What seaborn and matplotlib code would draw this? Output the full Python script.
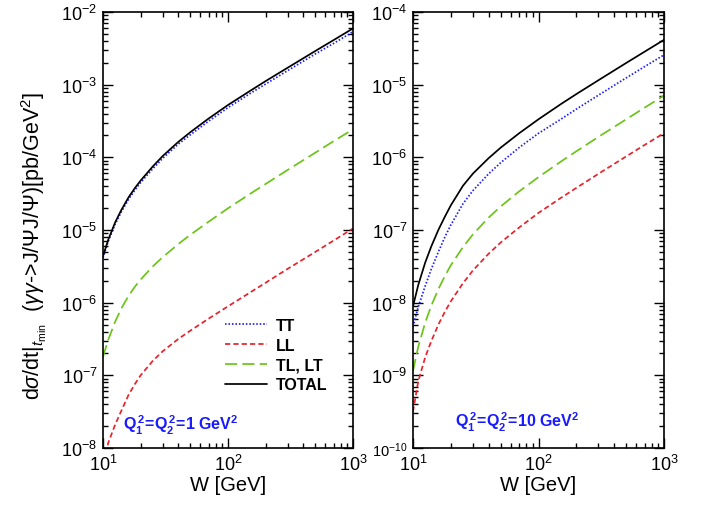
import numpy as np
import pandas as pd
import matplotlib
matplotlib.use('Agg')
import matplotlib.pyplot as plt
import seaborn as sns
from matplotlib.ticker import LogLocator, NullFormatter

# W grid [GeV], shared by both panels
W = [10, 11, 12.5, 14, 16, 18, 20, 25, 30, 40, 50, 70, 100, 150, 200, 300, 500, 700, 1000]

# left panel: Q1^2 = Q2^2 = 1 GeV^2
tt_1 = [4.15e-6, 6.95e-6, 1.2e-5, 1.77e-5, 2.64e-5, 3.55e-5, 4.5e-5, 6.96e-5, 9.67e-5, 1.52e-4,
        2.04e-4, 3.15e-4, 4.83e-4, 7.55e-4, 1.02e-3, 1.56e-3, 2.65e-3, 3.7e-3, 5.35e-3]
ll_1 = [5.0e-9, 1.17e-8, 2.09e-8, 3.24e-8, 5.37e-8, 7.59e-8, 1.0e-7, 1.58e-7, 2.14e-7, 3.16e-7,
        4.12e-7, 6.03e-7, 8.9e-7, 1.38e-6, 1.88e-6, 2.92e-6, 5.0e-6, 7.16e-6, 1.05e-5]
tl_1 = [1.8e-7, 3.07e-7, 5.46e-7, 8.3e-7, 1.24e-6, 1.66e-6, 2.08e-6, 3.15e-6, 4.22e-6, 6.4e-6,
        8.6e-6, 1.3e-5, 1.99e-5, 3.14e-5, 4.3e-5, 6.7e-5, 1.16e-4, 1.67e-4, 2.43e-4]
tot_1 = [4.37e-6, 7.31e-6, 1.27e-5, 1.88e-5, 2.81e-5, 3.78e-5, 4.79e-5, 7.48e-5, 1.04e-4, 1.63e-4,
         2.22e-4, 3.42e-4, 5.25e-4, 8.2e-4, 1.12e-3, 1.71e-3, 2.91e-3, 4.11e-3, 5.94e-3]

# right panel: Q1^2 = Q2^2 = 10 GeV^2
tt_10 = [4.68e-9, 8.69e-9, 1.69e-8, 2.91e-8, 5.1e-8, 8.09e-8, 1.17e-7, 2.29e-7, 3.48e-7, 5.92e-7,
         8.45e-7, 1.36e-6, 2.14e-6, 3.33e-6, 4.6e-6, 7.16e-6, 1.24e-5, 1.77e-5, 2.57e-5]
ll_10 = [3.16e-10, 8.2e-10, 1.77e-9, 2.97e-9, 5.07e-9, 7.57e-9, 1.04e-8, 1.85e-8, 2.77e-8, 4.71e-8,
         6.73e-8, 1.08e-7, 1.72e-7, 2.75e-7, 3.79e-7, 5.93e-7, 1.03e-6, 1.48e-6, 2.15e-6]
tl_10 = [1.15e-9, 2.46e-9, 5.3e-9, 9.12e-9, 1.56e-8, 2.35e-8, 3.26e-8, 5.82e-8, 8.69e-8, 1.48e-7,
         2.11e-7, 3.39e-7, 5.35e-7, 8.69e-7, 1.21e-6, 1.91e-6, 3.34e-6, 4.82e-6, 7.08e-6]
tot_10 = [8.9e-9, 1.74e-8, 3.55e-8, 5.97e-8, 1.02e-7, 1.54e-7, 2.18e-7, 4.06e-7, 5.96e-7, 9.72e-7,
          1.36e-6, 2.14e-6, 3.34e-6, 5.37e-6, 7.41e-6, 1.15e-5, 1.99e-5, 2.84e-5, 4.14e-5]

components = ['TT', 'LL', 'TL, LT', 'TOTAL']
palette = {'TT': '#1c1cff', 'LL': '#e8222c', 'TL, LT': '#6cc417', 'TOTAL': '#000000'}
dashes = {'TT': (0.9, 1.1), 'LL': (3.0, 1.8), 'TL, LT': (7.0, 3.0), 'TOTAL': ''}


def make_df(tt, ll, tl, tot):
    parts = []
    for name, vals in zip(components, [tt, ll, tl, tot]):
        parts.append(pd.DataFrame({'W': W, 'val': vals, 'comp': name}))
    return pd.concat(parts, ignore_index=True)


sns.set_style('ticks')
plt.rcParams['font.family'] = ['Liberation Sans', 'DejaVu Sans']
plt.rcParams['mathtext.fontset'] = 'custom'
plt.rcParams['mathtext.rm'] = 'Liberation Sans'
plt.rcParams['mathtext.it'] = 'Liberation Sans:italic'
plt.rcParams['mathtext.bf'] = 'Liberation Sans:bold'
for k in ['text.color', 'axes.labelcolor', 'xtick.color', 'ytick.color', 'axes.edgecolor']:
    plt.rcParams[k] = 'black'

fig = plt.figure(figsize=(7.01, 5.10), dpi=100)
ax1 = fig.add_axes([103 / 701, 1 - 449 / 510, 250 / 701, 436 / 510])
ax2 = fig.add_axes([413 / 701, 1 - 449 / 510, 251 / 701, 436 / 510])

panels = [
    (ax1, make_df(tt_1, ll_1, tl_1, tot_1), (1e-8, 1e-2)),
    (ax2, make_df(tt_10, ll_10, tl_10, tot_10), (1e-10, 1e-4)),
]

for ax, df, ylim in panels:
    sns.lineplot(data=df, x='W', y='val', hue='comp', style='comp',
                 hue_order=components, style_order=components,
                 palette=palette, dashes=dashes, lw=1.25,
                 errorbar=None, ax=ax, legend=(ax is ax1))
    ax.set_xscale('log')
    ax.set_yscale('log')
    ax.set_xlim(10, 1000)
    ax.set_ylim(*ylim)
    ax.xaxis.set_minor_locator(LogLocator(base=10, subs=np.arange(2, 10), numticks=100))
    ax.yaxis.set_minor_locator(LogLocator(base=10, subs=np.arange(2, 10), numticks=100))
    ax.xaxis.set_minor_formatter(NullFormatter())
    ax.yaxis.set_minor_formatter(NullFormatter())
    ax.tick_params(which='both', direction='in', top=True, right=True,
                   labelsize=13, color='black', labelcolor='black', width=1.0)
    ax.tick_params(which='major', length=7, pad=4)
    ax.tick_params(which='minor', length=3.5)
    for s in ax.spines.values():
        s.set_linewidth(1.2)
        s.set_color('black')
    ax.set_xlabel('W [GeV]', fontsize=14.5, labelpad=1)
    ax.set_ylabel('')

ax1.set_ylabel(r'd$\sigma$/dt$|_{t_{\min}}$  ($\gamma\gamma$->J/$\Psi$J/$\Psi$)[pb/GeV$^2$]',
               fontsize=15.5)
ax1.yaxis.set_label_coords(-0.215, 0.466)

handles, labels = ax1.get_legend_handles_labels()
ax1.legend(handles, labels, loc='center left', bbox_to_anchor=(0.488, 0.213),
           frameon=False, borderpad=0, borderaxespad=0, handlelength=2.6,
           handletextpad=0.6, labelspacing=0.3, prop={'weight': 'bold', 'size': 11.5})

ax1.text(0.08, 0.055, r'$\mathbf{Q_1^{\,2}\!=\!Q_2^{\,2}\!=\!1\ GeV^2}$', transform=ax1.transAxes,
         color='#1a1aff', fontsize=11.5, va='center', ha='left')
ax2.text(0.167, 0.062, r'$\mathbf{Q_1^{\,2}\!=\!Q_2^{\,2}\!=\!10\ GeV^2}$', transform=ax2.transAxes,
         color='#1a1aff', fontsize=11.5, va='center', ha='left')

fig.canvas.draw()
for lbl in ax2.get_yticklabels():
    if '10}' in lbl.get_text():
        lbl.set_fontsize(10.5)

fig.savefig('out.png', dpi=100)
